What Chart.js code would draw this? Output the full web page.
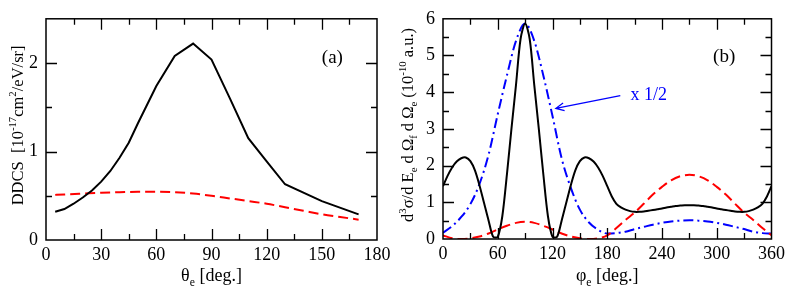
<!DOCTYPE html>
<html>
<head>
<meta charset="utf-8">
<script src="https://cdn.jsdelivr.net/npm/chart.js@4.4.1/dist/chart.umd.min.js"></script>
<style>
  html, body { margin: 0; padding: 0; background: #fff; }
  #wrap { position: relative; width: 789px; height: 289px; }
  canvas { position: absolute; top: 0; }
  #left { left: 0; }
  #right { left: 390px; }
</style>
</head>
<body>
<div id="wrap">
  <canvas id="left" width="395" height="289"></canvas>
  <canvas id="right" width="399" height="289"></canvas>
</div>
<script>
// Panel (a): DDCS vs theta_e
const thetaBlack = [5, 10, 15, 20, 25, 30, 35, 40, 45, 50, 60, 70, 80, 90, 100, 110, 120, 130, 150, 170];
const ddcsBlack  = [0.32, 0.35, 0.41, 0.48, 0.56, 0.66, 0.78, 0.93, 1.1, 1.32, 1.74, 2.08, 2.22, 2.04, 1.6, 1.15, 0.89, 0.63, 0.44, 0.29];
const thetaRed   = [5, 10, 20, 30, 40, 50, 60, 70, 80, 90, 100, 110, 120, 130, 140, 150, 160, 170];
const ddcsRed    = [0.51, 0.515, 0.525, 0.535, 0.54, 0.545, 0.545, 0.54, 0.525, 0.5, 0.47, 0.44, 0.41, 0.37, 0.33, 0.29, 0.26, 0.23];
const thetaTicks = [0, 30, 60, 90, 120, 150, 180];
const ddcsTicks  = [0, 1, 2];

// Panel (b): TDCS vs phi_e
const phiBlack = [0, 5, 10, 15, 20, 25, 30, 35, 40, 45, 50, 55, 60, 65, 70, 75, 80, 85, 90, 95,
                  100, 105, 110, 115, 120, 125, 130, 135, 140, 145, 150, 155, 160, 165, 170, 175, 180,
                  185, 190, 195, 200, 205, 210, 215, 220, 225, 230, 235, 240, 245, 250, 255, 260, 265, 270,
                  275, 280, 285, 290, 295, 300, 305, 310, 315, 320, 325, 330, 335, 340, 345, 350, 355, 360];
const tdcsBlack = [1.44, 1.72, 1.95, 2.11, 2.2, 2.22, 2.12, 1.87, 1.46, 0.98, 0.5, 0.06, 0.06, 0.62, 1.75, 3.0, 4.2, 5.45, 5.87, 5.45,
                   4.2, 3.0, 1.75, 0.62, 0.06, 0.06, 0.5, 0.98, 1.46, 1.87, 2.12, 2.22, 2.2, 2.11, 1.95, 1.72, 1.44,
                   1.16, 0.96, 0.86, 0.8, 0.76, 0.74, 0.74, 0.75, 0.77, 0.79, 0.81, 0.83, 0.86, 0.88, 0.9, 0.91, 0.92, 0.92,
                   0.92, 0.91, 0.9, 0.88, 0.86, 0.83, 0.81, 0.79, 0.77, 0.75, 0.74, 0.74, 0.76, 0.8, 0.86, 0.96, 1.16, 1.44];
const phiCoarse = [0, 10, 20, 30, 40, 50, 60, 70, 80, 90, 100, 110, 120, 130, 140, 150, 160, 170, 180,
                   190, 200, 210, 220, 230, 240, 250, 260, 270, 280, 290, 300, 310, 320, 330, 340, 350, 360];
const tdcsRed  = [0.1, 0.02, 0.0, 0.02, 0.07, 0.15, 0.26, 0.36, 0.44, 0.47, 0.44, 0.36, 0.26, 0.15, 0.07, 0.02, 0.0, 0.02, 0.1,
                  0.3, 0.52, 0.72, 0.96, 1.21, 1.42, 1.6, 1.71, 1.75, 1.71, 1.6, 1.42, 1.21, 0.96, 0.72, 0.52, 0.3, 0.1];
const tdcsBlue = [0.17, 0.35, 0.6, 0.95, 1.5, 2.3, 3.4, 4.45, 5.4, 5.87, 5.4, 4.45, 3.35, 2.2, 1.4, 0.8, 0.45, 0.25, 0.15,
                  0.16, 0.2, 0.27, 0.33, 0.39, 0.44, 0.48, 0.5, 0.51, 0.5, 0.48, 0.44, 0.39, 0.33, 0.27, 0.2, 0.16, 0.15];
const phiTicks  = [0, 60, 120, 180, 240, 300, 360];
const tdcsTicks = [0, 1, 2, 3, 4, 5, 6];

const FONT = 'Liberation Serif, Times New Roman, serif';

function pts(xs, ys) {
    return xs.map((x, i) => ({ x: x, y: ys[i] }));
}

// text with super/subscripts: parts = [[text, 0|1|-1], ...]
function richWidth(ctx, parts, size) {
    let w = 0;
    parts.forEach(p => {
        ctx.font = (p[1] ? size * 0.65 : size) + 'px ' + FONT;
        w += ctx.measureText(p[0]).width;
    });
    return w;
}
function drawRich(ctx, parts, cx, baseY, size, rotate) {
    ctx.save();
    ctx.translate(cx, baseY);
    if (rotate) ctx.rotate(-Math.PI / 2);
    ctx.fillStyle = '#000';
    ctx.textBaseline = 'alphabetic';
    ctx.textAlign = 'left';
    let x = -richWidth(ctx, parts, size) / 2;
    parts.forEach(p => {
        const s = p[1] ? size * 0.65 : size;
        ctx.font = s + 'px ' + FONT;
        const dy = p[1] === 1 ? -size * 0.42 : (p[1] === -1 ? size * 0.25 : 0);
        ctx.fillText(p[0], x, dy);
        x += ctx.measureText(p[0]).width;
    });
    ctx.restore();
}

// frame with inward ticks on all four sides, plus titles and labels
const framePlugin = {
    id: 'frame',
    afterDraw(chart, args, o) {
        const ctx = chart.ctx;
        const a = chart.chartArea;
        const xs = chart.scales.x, ys = chart.scales.y;
        ctx.save();
        ctx.strokeStyle = '#000';
        ctx.lineWidth = 1.5;
        ctx.strokeRect(a.left, a.top, a.right - a.left, a.bottom - a.top);
        ctx.lineWidth = 1.3;
        ctx.beginPath();
        for (let v = xs.min + o.xMinor; v < xs.max - 1e-6; v += o.xMinor) {
            const len = Math.abs(v / o.xMajor - Math.round(v / o.xMajor)) < 1e-6 ? 11 : 6;
            const px = Math.round(xs.getPixelForValue(v)) + 0.5;
            ctx.moveTo(px, a.bottom); ctx.lineTo(px, a.bottom - len);
            ctx.moveTo(px, a.top); ctx.lineTo(px, a.top + len);
        }
        for (let v = ys.min + o.yMinor; v < ys.max - 1e-6; v += o.yMinor) {
            const len = Math.abs(v / o.yMajor - Math.round(v / o.yMajor)) < 1e-6 ? 11 : 6;
            const py = Math.round(ys.getPixelForValue(v)) + 0.5;
            ctx.moveTo(a.left, py); ctx.lineTo(a.left + len, py);
            ctx.moveTo(a.right, py); ctx.lineTo(a.right - len, py);
        }
        ctx.stroke();
        ctx.restore();

        drawRich(ctx, o.xTitle, (a.left + a.right) / 2, 281, 18, false);
        drawRich(ctx, o.yTitle, o.yTitleX, (a.top + a.bottom) / 2 - 4, o.yTitleSize, true);

        // panel label
        ctx.save();
        ctx.font = '19px ' + FONT;
        ctx.fillStyle = '#000';
        ctx.fillText(o.panel[0], xs.getPixelForValue(o.panel[1]), ys.getPixelForValue(o.panel[2]));
        ctx.restore();

        if (o.note) {
            const n = o.note;
            ctx.save();
            ctx.strokeStyle = '#0000ff';
            ctx.fillStyle = '#0000ff';
            ctx.lineWidth = 1.3;
            const x0 = xs.getPixelForValue(n.from[0]), y0 = ys.getPixelForValue(n.from[1]);
            const x1 = xs.getPixelForValue(n.to[0]), y1 = ys.getPixelForValue(n.to[1]);
            const ang = Math.atan2(y0 - y1, x0 - x1);
            ctx.beginPath();
            ctx.moveTo(x0, y0); ctx.lineTo(x1, y1);
            ctx.moveTo(x1 + 9 * Math.cos(ang + 0.45), y1 + 9 * Math.sin(ang + 0.45));
            ctx.lineTo(x1, y1);
            ctx.lineTo(x1 + 9 * Math.cos(ang - 0.45), y1 + 9 * Math.sin(ang - 0.45));
            ctx.stroke();
            ctx.font = '18px ' + FONT;
            ctx.fillText(n.text, xs.getPixelForValue(n.at[0]), ys.getPixelForValue(n.at[1]));
            ctx.restore();
        }
    }
};

function axis(min, max, ticks, pos, fit) {
    return {
        type: 'linear',
        position: pos,
        min: min,
        max: max,
        grid: { display: false, drawTicks: false },
        border: { display: false },
        afterBuildTicks: s => { s.ticks = ticks.map(v => ({ value: v })); },
        afterFit: s => { if (pos === 'left') s.width = fit; else s.height = fit; },
        ticks: {
            color: '#000',
            padding: pos === 'left' ? 8 : 4,
            maxRotation: 0,
            autoSkip: false,
            font: { family: FONT, size: 18 }
        }
    };
}

Chart.defaults.animation = false;

new Chart(document.getElementById('left'), {
    type: 'line',
    data: {
        datasets: [
            { data: pts(thetaBlack, ddcsBlack), borderColor: '#000', borderWidth: 2, pointRadius: 0, tension: 0 },
            { data: pts(thetaRed, ddcsRed), borderColor: '#ff0000', borderWidth: 2, borderDash: [10, 5],
              pointRadius: 0, cubicInterpolationMode: 'monotone' }
        ]
    },
    options: {
        responsive: false,
        devicePixelRatio: 1,
        layout: { padding: { left: 0, right: 18, top: 8, bottom: 0 } },
        plugins: {
            legend: { display: false },
            tooltip: { enabled: false },
            frame: {
                xMajor: 30, xMinor: 15, yMajor: 1, yMinor: 0.5,
                xTitle: [['θ', 0], ['e', -1], [' [deg.]', 0]],
                yTitle: [['DDCS  [10', 0], ['-17', 1], ['cm', 0], ['2', 1], ['/eV/sr]', 0]],
                yTitleX: 23,
                yTitleSize: 16.5,
                panel: ['(a)', 150, 2.0]
            }
        },
        scales: {
            x: axis(0, 180, thetaTicks, 'bottom', 49),
            y: axis(0, 2.5, ddcsTicks, 'left', 46)
        }
    },
    plugins: [framePlugin]
});

new Chart(document.getElementById('right'), {
    type: 'line',
    data: {
        datasets: [
            { data: pts(phiBlack, tdcsBlack), borderColor: '#000', borderWidth: 2, pointRadius: 0, tension: 0.3 },
            { data: pts(phiCoarse, tdcsRed), borderColor: '#ff0000', borderWidth: 2, borderDash: [10, 5],
              pointRadius: 0, cubicInterpolationMode: 'monotone' },
            { data: pts(phiCoarse, tdcsBlue), borderColor: '#0000ff', borderWidth: 2, borderDash: [10, 4, 2, 4],
              pointRadius: 0, cubicInterpolationMode: 'monotone' }
        ]
    },
    options: {
        responsive: false,
        devicePixelRatio: 1,
        layout: { padding: { left: 0, right: 15, top: 8, bottom: 0 } },
        plugins: {
            legend: { display: false },
            tooltip: { enabled: false },
            frame: {
                xMajor: 60, xMinor: 30, yMajor: 1, yMinor: 0.5,
                xTitle: [['φ', 0], ['e', -1], [' [deg.]', 0]],
                yTitle: [['d', 0], ['3', 1], ['σ/d E', 0], ['e', -1], [' d Ω', 0], ['f', -1], [' d Ω', 0], ['e', -1],
                         [' (10', 0], ['-10', 1], [' a.u.)', 0]],
                yTitleX: 23,
                yTitleSize: 16.5,
                panel: ['(b)', 296, 4.82],
                note: { text: 'x 1/2', at: [205.6, 3.78], from: [194.3, 3.905], to: [123.7, 3.56] }
            }
        },
        scales: {
            x: axis(0, 360, phiTicks, 'bottom', 50),
            y: axis(0, 6, tdcsTicks, 'left', 53)
        }
    },
    plugins: [framePlugin]
});
</script>
</body>
</html>
